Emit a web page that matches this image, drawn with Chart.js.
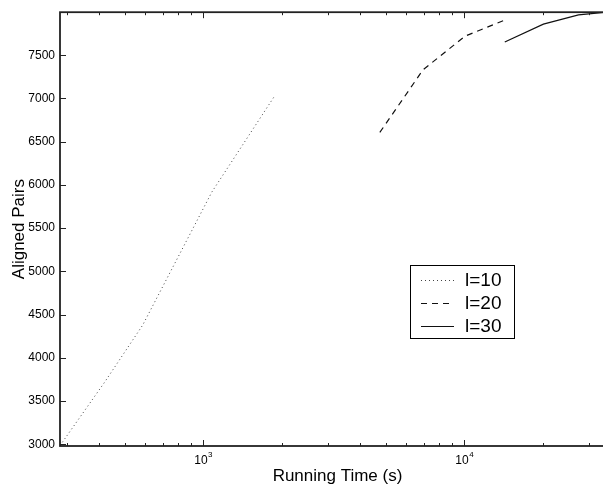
<!DOCTYPE html>
<html>
<head>
<meta charset="utf-8">
<script src="https://cdn.jsdelivr.net/npm/chart.js@4"></script>
<style>
  html, body { margin: 0; padding: 0; background: #fff; overflow: hidden; }
  #wrap { width: 603px; height: 487px; overflow: hidden; }
</style>
</head>
<body>
<div id="wrap"><canvas id="chart" width="617" height="487"></canvas></div>
<script>
// values
const l10Time = [283, 419, 587, 1080, 1882];
const l10Pairs = [2985, 3716, 4379, 5918, 7033];
const l20Time = [4750, 6950, 10060, 14100];
const l20Pairs = [6607, 7331, 7720, 7900];
const l30Time = [14300, 20100, 27400, 34300];
const l30Pairs = [7653, 7860, 7967, 7995];

const seriesLabels = ['l=10', 'l=20', 'l=30'];
const xTickValues = [300, 400, 500, 600, 700, 800, 900, 1000,
  2000, 3000, 4000, 5000, 6000, 7000, 8000, 9000, 10000, 20000, 30000];
const yTickValues = [3000, 3500, 4000, 4500, 5000, 5500, 6000, 6500, 7000, 7500];

const FONT = '"Liberation Sans", Arial, Helvetica, sans-serif';

function toPoints(xs, ys) {
  return xs.map((x, i) => ({ x: x, y: ys[i] }));
}

function isDecade(v) {
  const e = Math.log10(v);
  return Math.abs(e - Math.round(e)) < 1e-9;
}

// matlab style box, inward ticks, superscript decade labels, legend inside the axes
const matlabBox = {
  id: 'matlabBox',
  afterDraw(chart) {
    const { ctx, chartArea: a, scales } = chart;
    const x = scales.x, y = scales.y;
    ctx.save();

    ctx.strokeStyle = '#222';
    ctx.lineWidth = 1;
    ctx.setLineDash([]);
    ctx.beginPath();
    x.ticks.forEach(t => {
      const px = Math.round(x.getPixelForValue(t.value)) + 0.5;
      const len = t.major ? 6 : 3;
      ctx.moveTo(px, a.bottom); ctx.lineTo(px, a.bottom - len);
      ctx.moveTo(px, a.top); ctx.lineTo(px, a.top + len);
    });
    y.ticks.forEach(t => {
      const py = Math.round(y.getPixelForValue(t.value)) + 0.5;
      ctx.moveTo(a.left, py); ctx.lineTo(a.left + 6, py);
      ctx.moveTo(a.right, py); ctx.lineTo(a.right - 6, py);
    });
    ctx.stroke();

    ctx.lineWidth = 1.8;
    ctx.strokeRect(a.left, a.top, a.right - a.left, a.bottom - a.top);

    // 10^n labels
    ctx.fillStyle = '#000';
    ctx.textBaseline = 'alphabetic';
    ctx.textAlign = 'left';
    x.ticks.filter(t => t.major).forEach(t => {
      const px = x.getPixelForValue(t.value);
      const exp = String(Math.round(Math.log10(t.value)));
      ctx.font = '12px ' + FONT;
      const wBase = ctx.measureText('10').width;
      ctx.font = '8px ' + FONT;
      const wExp = ctx.measureText(exp).width;
      const start = px - (wBase + wExp) / 2;
      ctx.font = '12px ' + FONT;
      ctx.fillText('10', start, a.bottom + 18);
      ctx.font = '8px ' + FONT;
      ctx.fillText(exp, start + wBase + 0.5, a.bottom + 10.5);
    });

    // legend
    const lx = 410, ly = 265, lw = 104, lh = 73;
    ctx.fillStyle = '#fff';
    ctx.fillRect(lx, ly, lw, lh);
    ctx.lineWidth = 1;
    ctx.strokeStyle = '#000';
    ctx.strokeRect(lx + 0.5, ly + 0.5, lw, lh);
    chart.data.datasets.forEach((ds, i) => {
      const rowY = ly + 14.5 + i * 23.3;
      ctx.strokeStyle = ds.borderColor;
      ctx.lineWidth = ds.borderWidth;
      ctx.setLineDash(ds.borderDash || []);
      ctx.beginPath();
      ctx.moveTo(lx + 11, Math.round(rowY) + 0.5);
      ctx.lineTo(lx + 44, Math.round(rowY) + 0.5);
      ctx.stroke();
      ctx.setLineDash([]);
      ctx.fillStyle = '#000';
      ctx.font = '19px ' + FONT;
      ctx.textBaseline = 'middle';
      ctx.fillText(ds.label, lx + 55, rowY + 1);
    });

    ctx.restore();
  }
};

new Chart(document.getElementById('chart'), {
  type: 'line',
  data: {
    datasets: [
      {
        label: seriesLabels[0],
        data: toPoints(l10Time, l10Pairs),
        borderColor: '#444',
        borderWidth: 1,
        borderDash: [1, 3],
        pointRadius: 0,
        tension: 0
      },
      {
        label: seriesLabels[1],
        data: toPoints(l20Time, l20Pairs),
        borderColor: '#111',
        borderWidth: 1.2,
        borderDash: [6, 5],
        pointRadius: 0,
        tension: 0
      },
      {
        label: seriesLabels[2],
        data: toPoints(l30Time, l30Pairs),
        borderColor: '#111',
        borderWidth: 1.2,
        pointRadius: 0,
        tension: 0
      }
    ]
  },
  options: {
    responsive: false,
    animation: false,
    layout: { padding: { left: 0, top: 9, right: 2, bottom: 0 } },
    plugins: {
      legend: { display: false },
      tooltip: { enabled: false }
    },
    scales: {
      x: {
        type: 'logarithmic',
        min: 283,
        max: 37800,
        afterBuildTicks: s => {
          s.ticks = xTickValues.map(v => ({ value: v, major: isDecade(v) }));
        },
        afterFit: s => { s.height = 41; },
        grid: { display: false, drawTicks: false },
        border: { display: false },
        ticks: { display: false },
        title: {
          display: true,
          text: 'Running Time (s)',
          color: '#000',
          font: { family: FONT, size: 17 },
          padding: { top: 2, bottom: 0 }
        }
      },
      y: {
        type: 'linear',
        min: 2980,
        max: 7998,
        afterBuildTicks: s => {
          s.ticks = yTickValues.map(v => ({ value: v }));
        },
        afterFit: s => { s.width = 60; },
        grid: { display: false, drawTicks: false },
        border: { display: false },
        ticks: {
          color: '#000',
          font: { family: FONT, size: 12 },
          padding: 5,
          callback: v => String(v)
        },
        title: {
          display: true,
          text: 'Aligned Pairs',
          color: '#000',
          font: { family: FONT, size: 17 },
          padding: { top: 9, bottom: 0 }
        }
      }
    }
  },
  plugins: [matlabBox]
});
</script>
</body>
</html>
